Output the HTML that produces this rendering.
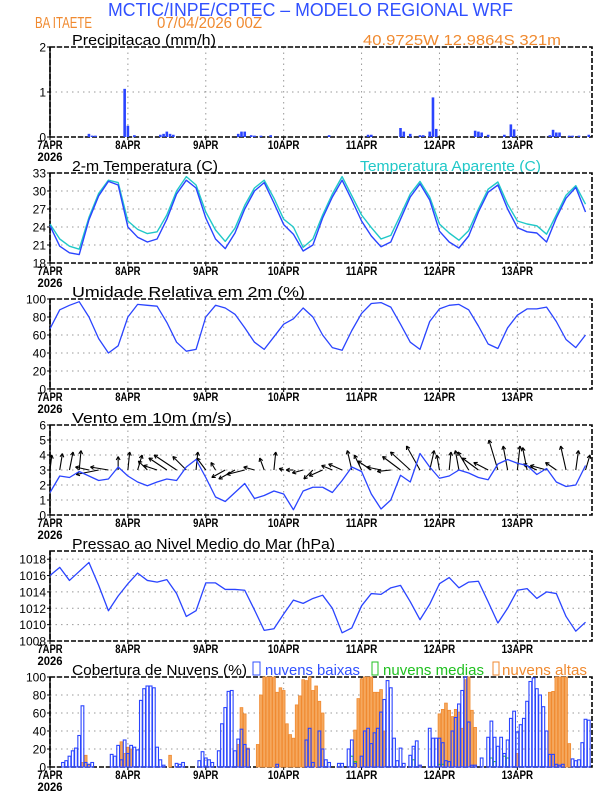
<!DOCTYPE html>
<html><head><meta charset="utf-8"><style>
html,body{margin:0;padding:0;background:#fff;}
svg{display:block;font-family:"Liberation Sans",sans-serif;}
</style></head><body>
<svg id="c" width="612" height="792" viewBox="0 0 612 792" xmlns="http://www.w3.org/2000/svg">
<text x="108" y="16" font-size="18" fill="#3050ff" textLength="405" lengthAdjust="spacingAndGlyphs">MCTIC/INPE/CPTEC – MODELO REGIONAL WRF</text>
<text x="35" y="28" font-size="16" fill="#f08a30" textLength="57" lengthAdjust="spacingAndGlyphs">BA ITAETE</text>
<text x="157" y="28" font-size="16" fill="#f08a30" textLength="105" lengthAdjust="spacingAndGlyphs">07/04/2026 00Z</text>
<text x="72" y="45" font-size="15" fill="#000" textLength="144" lengthAdjust="spacingAndGlyphs">Precipitacao (mm/h)</text>
<text x="363" y="45" font-size="15" fill="#f08a30" textLength="198" lengthAdjust="spacingAndGlyphs">40.9725W 12.9864S 321m</text>
<text x="72" y="171" font-size="15" fill="#000" textLength="146" lengthAdjust="spacingAndGlyphs">2-m Temperatura (C)</text>
<text x="360" y="171" font-size="15" fill="#20c8c8" textLength="181" lengthAdjust="spacingAndGlyphs">Temperatura Aparente (C)</text>
<text x="72" y="297" font-size="15" fill="#000" textLength="233" lengthAdjust="spacingAndGlyphs">Umidade Relativa em 2m (%)</text>
<text x="72" y="423" font-size="15" fill="#000" textLength="160" lengthAdjust="spacingAndGlyphs">Vento em 10m (m/s)</text>
<text x="72" y="549" font-size="15" fill="#000" textLength="263" lengthAdjust="spacingAndGlyphs">Pressao ao Nivel Medio do Mar (hPa)</text>
<text x="72" y="675" font-size="15" fill="#000" textLength="175" lengthAdjust="spacingAndGlyphs">Cobertura de Nuvens (%)</text>
<rect x="253" y="662" width="7" height="13" fill="none" stroke="#3050ff" stroke-width="1"/>
<text x="265" y="675" font-size="15" fill="#3050ff" textLength="95" lengthAdjust="spacingAndGlyphs">nuvens baixas</text>
<rect x="372" y="662" width="6" height="13" fill="none" stroke="#20c020" stroke-width="1"/>
<text x="383" y="675" font-size="15" fill="#20c020" textLength="101" lengthAdjust="spacingAndGlyphs">nuvens medias</text>
<rect x="493" y="662" width="6" height="13" fill="none" stroke="#f08a30" stroke-width="1"/>
<text x="502" y="675" font-size="15" fill="#f08a30" textLength="85" lengthAdjust="spacingAndGlyphs">nuvens altas</text>
</svg>
<script>
const dayLabels=["7APR","8APR","9APR","10APR","11APR","12APR","13APR"];
const hours3=[0,3,6,9,12,15,18,21,24,27,30,33,36,39,42,45,48,51,54,57,60,63,66,69,72,75,78,81,84,87,90,93,96,99,102,105,108,111,114,117,120,123,126,129,132,135,138,141,144,147,150,153,156,159,162,165];
const precipHours=[12,13,14,23,24,26,34,35,36,37,38,58,59,60,62,63,65,68,86,98,99,108,109,111,114,115,117,118,119,131,132,133,135,140,142,143,154,155,156,157,160,161,163,166];
const precipVals=[0.07,0.03,0.03,1.07,0.25,0.04,0.05,0.07,0.12,0.07,0.05,0.07,0.12,0.12,0.04,0.03,0.03,0.04,0.04,0.05,0.05,0.2,0.12,0.07,0.04,0.04,0.12,0.88,0.18,0.14,0.12,0.1,0.05,0.05,0.28,0.17,0.04,0.16,0.1,0.1,0.03,0.03,0.03,0.05];
const temp=[24.2,20.8,19.7,19.4,25.2,29.2,31.6,31.0, 24.0,22.3,21.5,22.0,25.3,29.5,31.8,30.5, 25.5,22.0,20.4,23.0,27.0,30.0,31.4,28.0, 24.4,22.8,20.0,21.0,25.5,29.0,31.8,28.5, 25.0,22.5,20.7,21.5,25.3,29.0,31.2,28.5, 23.3,21.5,20.5,22.5,26.5,29.8,31.0,27.0, 23.9,23.2,23.0,21.5,25.5,28.8,30.6,26.5];
const tempApp=[24.5,22.0,20.8,20.3,25.6,29.6,31.8,31.4, 25.0,23.6,22.9,23.2,26.0,30.0,32.4,31.0, 26.5,23.5,21.6,23.8,27.6,30.5,31.8,28.8, 25.3,24.0,20.6,22.0,26.0,29.5,32.4,29.2, 26.0,23.9,22.0,22.6,26.0,29.5,31.6,29.0, 24.5,23.0,21.8,23.4,27.0,30.3,31.5,27.8, 25.0,24.5,24.2,22.8,26.0,29.3,30.9,27.8];
const rh=[67,88,93,97,80,56,40,48, 80,94,93,92,74,52,42,44, 80,93,90,83,68,52,44,58, 72,78,90,80,60,46,43,65, 84,95,96,91,72,52,44,75, 89,93,94,88,70,50,45,68, 82,89,89,91,75,55,46,60];
const windSpd=[1.5,2.6,2.5,2.9,2.6,2.3,2.4,3.2, 2.6,2.2,1.95,2.2,2.4,2.3,3.2,3.7, 2.5,1.2,0.9,1.5,2.1,1.1,1.3,1.6, 1.4,0.35,1.6,1.85,1.85,1.5,2.3,3.2, 2.9,1.4,0.4,1.0,2.65,2.2,4.1,3.2, 2.45,2.6,3.0,2.8,2.5,2.35,3.4,3.7, 3.45,3.3,2.7,3.1,2.2,1.9,2.0,3.3];
const windU=[0.2,0.3,0.4,0.2,-1.5,-2.5,-2.0,0.0, 0.2,0.5,-1.0,-1.5,-2.0,-2.5,-1.5,0.2, -1.0,-0.5,-1.5,-1.8,-2.0,-1.2,-0.5,0.2, -0.5,-0.8,-1.2,-1.0,-1.5,-1.2,-1.5,-0.5, -0.8,-1.5,-1.6,-1.5,-2.0,-2.2,-1.5,0.5, -0.3,0.2,-0.4,-1.2,-1.8,-1.6,-1.0,-0.5, 0.3,-0.5,-1.5,-1.8,-1.2,-0.6,0.3,0.5];
const windV=[1.0,1.1,1.2,1.3,0.2,-0.3,0.2,0.9, 1.2,1.0,0.6,0.3,0.8,1.0,0.9,1.2, 0.8,0.5,-0.5,-0.6,-0.3,0.2,0.8,1.2, 0.1,0.0,-0.2,-0.6,-0.4,0.3,0.4,1.3, 1.0,0.6,0.2,-0.1,0.9,1.2,1.6,1.3, 1.0,1.2,1.3,1.2,0.8,0.5,2.0,1.6, 1.6,1.5,0.4,0.3,0.5,1.6,1.3,1.0];
const pres=[1016.0,1017.0,1015.4,1016.5,1017.6,1014.8,1011.7,1013.5, 1015.0,1016.3,1015.4,1015.2,1015.5,1013.8,1011.0,1011.7, 1015.1,1015.1,1014.3,1014.3,1014.2,1011.8,1009.3,1009.5, 1011.3,1013.0,1012.6,1013.2,1013.6,1012.0,1009.0,1009.6, 1012.3,1013.8,1013.7,1014.5,1014.8,1012.8,1010.6,1012.5, 1015.0,1015.75,1014.5,1015.2,1015.3,1012.8,1010.2,1012.0, 1014.2,1014.4,1013.2,1014.0,1013.8,1011.0,1009.2,1010.3];
const cloudLow=[0,0,0,0,5,7,12,18,21,35, 68,5,3,5,0,0,0,0,0,14, 12,24,8,30,15,24,22,19,74,87, 90,90,88,22,8,2,0,0,0,4, 3,5,0,0,0,0,7,17,10,8, 5,0,18,48,66,84,85,18,31,42, 25,20,0,0,0,0,0,0,0,0, 3,0,0,0,0,0,0,0,0,30, 43,5,0,40,20,8,5,0,0,4, 4,0,20,30,4,0,12,40,43,26, 38,43,61,75,96,88,32,7,21,4, 0,13,23,29,2,0,0,43,32,32, 32,27,7,6,40,55,70,85,100,50, 2,2,0,10,0,33,51,33,23,33, 15,30,54,62,39,47,54,73,95,99, 87,80,67,40,14,14,3,2,3,0, 0,9,7,8,27,53,52];
const cloudHigh=[0,0,0,0,0,0,0,0,0,0, 5,13,3,0,0,0,0,0,0,0, 0,0,28,15,22,20,0,0,0,0, 0,0,0,0,0,0,0,13,0,0, 0,0,0,0,0,0,0,0,0,0, 0,0,0,0,0,0,0,0,25,66, 59,21,0,0,25,80,100,100,100,100, 83,88,85,48,36,32,69,79,97,96, 100,85,90,73,60,0,0,0,0,0, 0,0,0,0,41,76,98,100,100,100, 83,83,86,40,0,0,0,0,0,0, 0,0,0,0,2,0,0,0,0,0, 59,64,71,63,56,64,61,43,97,100, 63,44,0,0,0,0,0,0,0,0, 0,0,0,0,15,0,0,0,0,0, 0,0,0,0,83,84,100,100,100,100, 26,0,0,0,0,0,0];
const cloudMidHours=[93,94,112,120,121,136,137,140,141];
const cloudMidVals=[12,6,8,3,3,10,6,12,10];

const NS="http://www.w3.org/2000/svg";
const svg=document.getElementById('c');
const X0=50,X1=592,HMAX=167;
function xs(h){return X0+h*(X1-X0)/HMAX;}
function mk(tag,attrs,parent){const e=document.createElementNS(NS,tag);for(const k in attrs)e.setAttribute(k,attrs[k]);(parent||svg).appendChild(e);return e;}
function panel(name,top,ymin,ymax,ticks,fmt){
  const g=mk('g',{});
  
  
  const bot=top+90;
  const ys=v=>bot-(v-ymin)/(ymax-ymin)*90;
  ticks.forEach(t=>{
    const y=ys(t);
    const gl=mk('line',{x1:X0,x2:X1,y1:y,y2:y,stroke:'#999','stroke-width':1,'stroke-dasharray':'1.5,4'},g);
    
    
    const tk=mk('line',{x1:X0-3,x2:X0,y1:y,y2:y,stroke:'#000','stroke-width':1},g);
    
    
    const tl=mk('text',{x:X0-4,y:y+4.5,'font-size':12,'text-anchor':'end',fill:'#000'},g);
    tl.textContent=fmt?fmt(t):String(t);
    
    
  });
  dayLabels.forEach((d,i)=>{
    const x=xs(i*24);
    if(i>0){const vl=mk('line',{x1:x,x2:x,y1:top,y2:bot,stroke:'#999','stroke-width':1,'stroke-dasharray':'1.5,4'},g);
    
    }
    const tk=mk('line',{x1:x,x2:x,y1:bot,y2:bot+3,stroke:'#000','stroke-width':1},g);
    
    
    const tl=mk('text',{x:x,y:bot+12,'font-size':11.5,'text-anchor':'middle',fill:'#000','font-weight':'bold',textLength:d.length*6.3,lengthAdjust:'spacingAndGlyphs'},g);
    tl.textContent=d;
    
    
  });
  const yr=mk('text',{x:X0,y:bot+24,'font-size':11.5,'text-anchor':'middle',fill:'#000','font-weight':'bold',textLength:25,lengthAdjust:'spacingAndGlyphs'},g);
  yr.textContent='2026';
  
  
  const fr=mk('rect',{x:X0,y:top,width:X1-X0,height:90,fill:'none',stroke:'#000','stroke-width':1.6,'stroke-dasharray':'5,2'},g);
  
  
  const ax=mk('line',{x1:X0,x2:X0,y1:top,y2:bot,stroke:'#000','stroke-width':1.4},g);
  
  
  return {g,ys,top,bot};
}
function line(p,vals,color,name,w){
  const d=vals.map((v,i)=>(i?'L':'M')+xs(hours3[i]).toFixed(2)+','+p.ys(v).toFixed(2)).join('');
  const pa=mk('path',{d:d,fill:'none',stroke:color,'stroke-width':w||1.3,'stroke-linejoin':'round'});
  
  
}
const bw=(X1-X0)/HMAX;
const pP=panel('precip',47,0,2,[0,1,2]);
precipHours.forEach((h,i)=>{
  const y=pP.ys(precipVals[i]);
  const r=mk('rect',{x:xs(h)-bw*0.4,y:y,width:bw*0.8,height:pP.bot-y,fill:'#2a44ff'});
  
  
});
const pT=panel('temp',173,18,33,[18,21,24,27,30,33]);
line(pT,tempApp,'#20c8c8','apparent-temp-line',1.4);
line(pT,temp,'#2a44ff','temp-line',1.4);
const pR=panel('rh',299,0,100,[0,20,40,60,80,100]);
line(pR,rh,'#2a44ff','rh-line');
const pW=panel('wind',425,0,6,[0,1,2,3,4,5,6]);
hours3.forEach((h,i)=>{
  const x0=xs(h),y0=pW.ys(3);
  const x1=x0+windU[i]*9,y1=y0-windV[i]*15;
  const a=mk('line',{x1:x0,y1:y0,x2:x1,y2:y1,stroke:'#000','stroke-width':1.1});
  
  
  const ang=Math.atan2(y1-y0,x1-x0);
  const hd=`M${x1},${y1}L${x1-4*Math.cos(ang-0.5)},${y1-4*Math.sin(ang-0.5)}M${x1},${y1}L${x1-4*Math.cos(ang+0.5)},${y1-4*Math.sin(ang+0.5)}`;
  const ah=mk('path',{d:hd,stroke:'#000','stroke-width':1.1,fill:'none'});
  
  
});
line(pW,windSpd,'#2a44ff','wind-speed-line');
const pPr=panel('pressure',551,1008,1019,[1008,1010,1012,1014,1016,1018]);
line(pPr,pres,'#2a44ff','pressure-line');
const pC=panel('cloud',677,0,100,[0,20,40,60,80,100]);
cloudHigh.forEach((v,h)=>{
  if(v<=0)return;
  const y=pC.ys(v);
  const r=mk('rect',{x:xs(h)-bw*0.42,y:y,width:bw*0.84,height:pC.bot-y,fill:'#f5a85e',stroke:'#f08a30','stroke-width':0.8});
  
  
});
cloudMidHours.forEach((h,i)=>{
  const y=pC.ys(cloudMidVals[i]);
  const r=mk('rect',{x:xs(h)-bw*0.4,y:y,width:bw*0.8,height:pC.bot-y,fill:'none',stroke:'#20c020','stroke-width':1});
  
  
});
cloudLow.forEach((v,h)=>{
  if(v<=0)return;
  const y=pC.ys(v);
  const r=mk('rect',{x:xs(h)-bw*0.42,y:y,width:bw*0.84,height:pC.bot-y,fill:'none',stroke:'#2a44ff','stroke-width':1.1});
  
  
});
</script>
</body></html>
